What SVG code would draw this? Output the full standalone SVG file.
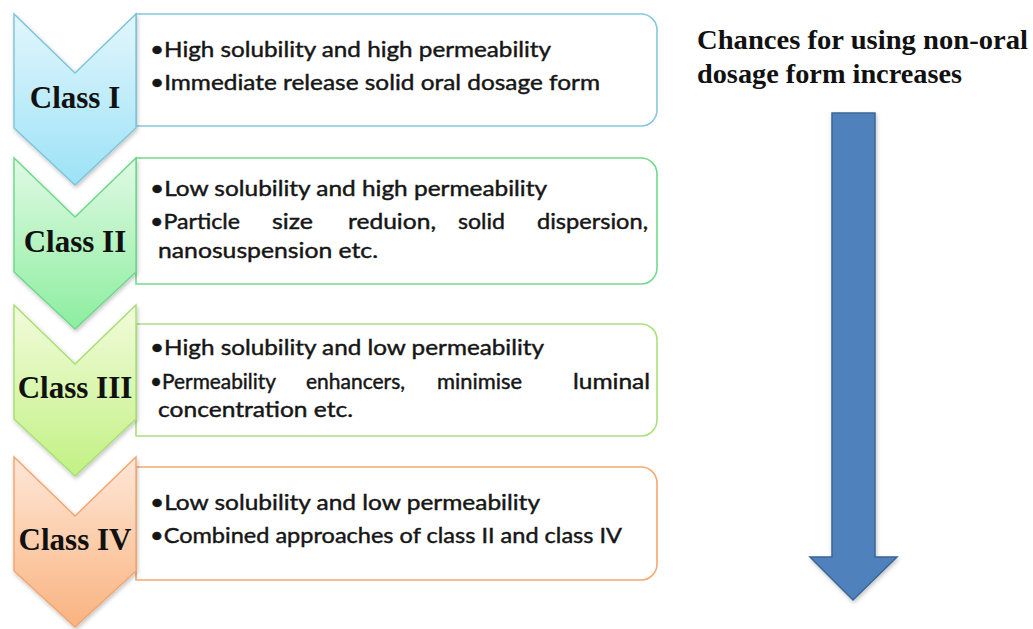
<svg xmlns="http://www.w3.org/2000/svg" width="1033" height="629" viewBox="0 0 1033 629">
  <defs>
    <linearGradient id="gBlue" x1="0" y1="0" x2="0" y2="1">
      <stop offset="0" stop-color="#e2f6fc"/>
      <stop offset="1" stop-color="#9ce2f7"/>
    </linearGradient>
    <linearGradient id="gGreen" x1="0" y1="0" x2="0" y2="1">
      <stop offset="0" stop-color="#e0f9e4"/>
      <stop offset="1" stop-color="#8cee9f"/>
    </linearGradient>
    <linearGradient id="gLime" x1="0" y1="0" x2="0" y2="1">
      <stop offset="0" stop-color="#f2fbdb"/>
      <stop offset="1" stop-color="#c2f184"/>
    </linearGradient>
    <linearGradient id="gOrange" x1="0" y1="0" x2="0" y2="1">
      <stop offset="0" stop-color="#fee7d7"/>
      <stop offset="1" stop-color="#f9b380"/>
    </linearGradient>
    <filter id="soft" x="-10%" y="-10%" width="130%" height="130%">
      <feGaussianBlur in="SourceAlpha" stdDeviation="2"/>
      <feOffset dx="1" dy="2"/>
      <feComponentTransfer><feFuncA type="linear" slope="0.25"/></feComponentTransfer>
      <feMerge><feMergeNode/><feMergeNode in="SourceGraphic"/></feMerge>
    </filter>
  </defs>
  <style>
    .box { fill: #ffffff; stroke-width: 1.6; }
    .chev { stroke-width: 1.4; filter: url(#soft); }
    .cls { font-family: "Liberation Serif", "Times New Roman", serif; font-weight: bold; font-size: 31px; fill: #111111; text-anchor: middle; }
    .txt { font-family: Lato, "Open Sans", sans-serif; font-size: 22px; fill: #161616; stroke: #161616; stroke-width: 0.45; }
    .head { font-family: "Liberation Serif", "Times New Roman", serif; font-weight: bold; font-size: 27px; fill: #111111; }
  </style>
  <rect width="1033" height="629" fill="#ffffff"/>

  <!-- Class I -->
  <g id="class1">
    <path class="box" stroke="#86c8dc" d="M136,14 H641 A16,16 0 0 1 657,30 V110 A16,16 0 0 1 641,126 H136 Z"/>
    <polygon class="chev" fill="url(#gBlue)" stroke="#7cc4d8" points="14,14 75,73 136,14 136,128 75,185 14,128"/>
    <text class="cls" x="75" y="108">Class I</text>
    <text class="txt" x="150" y="57" textLength="401" lengthAdjust="spacingAndGlyphs">•High solubility and high permeability</text>
    <text class="txt" x="150" y="90" textLength="450" lengthAdjust="spacingAndGlyphs">•Immediate release solid oral dosage form</text>
  </g>

  <!-- Class II -->
  <g id="class2">
    <path class="box" stroke="#72da8b" d="M136,158 H641 A16,16 0 0 1 657,174 V268 A16,16 0 0 1 641,284 H136 Z"/>
    <polygon class="chev" fill="url(#gGreen)" stroke="#6bd88a" points="14,158 75,217 136,158 136,272 75,329 14,272"/>
    <text class="cls" x="75" y="252">Class II</text>
    <text class="txt" x="150" y="196" textLength="397" lengthAdjust="spacingAndGlyphs">•Low solubility and high permeability</text>
    <!-- justified line, one word per run -->
    <text class="txt" x="150" y="229" textLength="90" lengthAdjust="spacingAndGlyphs">•Particle</text>
    <text class="txt" x="272" y="229" textLength="41" lengthAdjust="spacingAndGlyphs">size</text>
    <text class="txt" x="348" y="229" textLength="88" lengthAdjust="spacingAndGlyphs">reduion,</text>
    <text class="txt" x="458" y="229" textLength="47" lengthAdjust="spacingAndGlyphs">solid</text>
    <text class="txt" x="537" y="229" textLength="111" lengthAdjust="spacingAndGlyphs">dispersion,</text>
    <text class="txt" x="158" y="258" textLength="220" lengthAdjust="spacingAndGlyphs">nanosuspension etc.</text>
  </g>

  <!-- Class III -->
  <g id="class3">
    <path class="box" stroke="#a8e17a" d="M136,324 H641 A16,16 0 0 1 657,340 V420 A16,16 0 0 1 641,436 H136 Z"/>
    <polygon class="chev" fill="url(#gLime)" stroke="#a6df72" points="14,305 75,364 136,305 136,419 75,476 14,419"/>
    <text class="cls" x="75" y="398">Class III</text>
    <text class="txt" x="150" y="355" textLength="394" lengthAdjust="spacingAndGlyphs">•High solubility and low permeability</text>
    <!-- justified line, one word per run -->
    <text class="txt" x="150" y="389" textLength="126" lengthAdjust="spacingAndGlyphs">•Permeability</text>
    <text class="txt" x="306" y="389" textLength="99" lengthAdjust="spacingAndGlyphs">enhancers,</text>
    <text class="txt" x="437" y="389" textLength="85" lengthAdjust="spacingAndGlyphs">minimise</text>
    <text class="txt" x="573" y="389" textLength="77" lengthAdjust="spacingAndGlyphs">luminal</text>
    <text class="txt" x="158" y="417" textLength="195" lengthAdjust="spacingAndGlyphs">concentration etc.</text>
  </g>

  <!-- Class IV -->
  <g id="class4">
    <path class="box" stroke="#f6a86e" d="M136,467 H641 A16,16 0 0 1 657,483 V564 A16,16 0 0 1 641,580 H136 Z"/>
    <polygon class="chev" fill="url(#gOrange)" stroke="#f4a46c" points="14,457 75,516 136,457 136,571 75,627 14,571"/>
    <text class="cls" x="75" y="550">Class IV</text>
    <text class="txt" x="150" y="510" textLength="390" lengthAdjust="spacingAndGlyphs">•Low solubility and low permeability</text>
    <text class="txt" x="150" y="543" textLength="472" lengthAdjust="spacingAndGlyphs">•Combined approaches of class II and class IV</text>
  </g>

  <!-- Trend label and arrow -->
  <g id="trend">
    <text class="head" x="697" y="49" textLength="331" lengthAdjust="spacingAndGlyphs">Chances for using non-oral</text>
    <text class="head" x="697" y="83" textLength="265" lengthAdjust="spacingAndGlyphs">dosage form increases</text>
  </g>
  <g id="connectors">
    <polygon fill="#4f81bd" stroke="#3b6597" stroke-width="1.5" filter="url(#soft)" points="832,113 875,113 875,557 897,557 853,600 810,557 832,557"/>
  </g>
</svg>
